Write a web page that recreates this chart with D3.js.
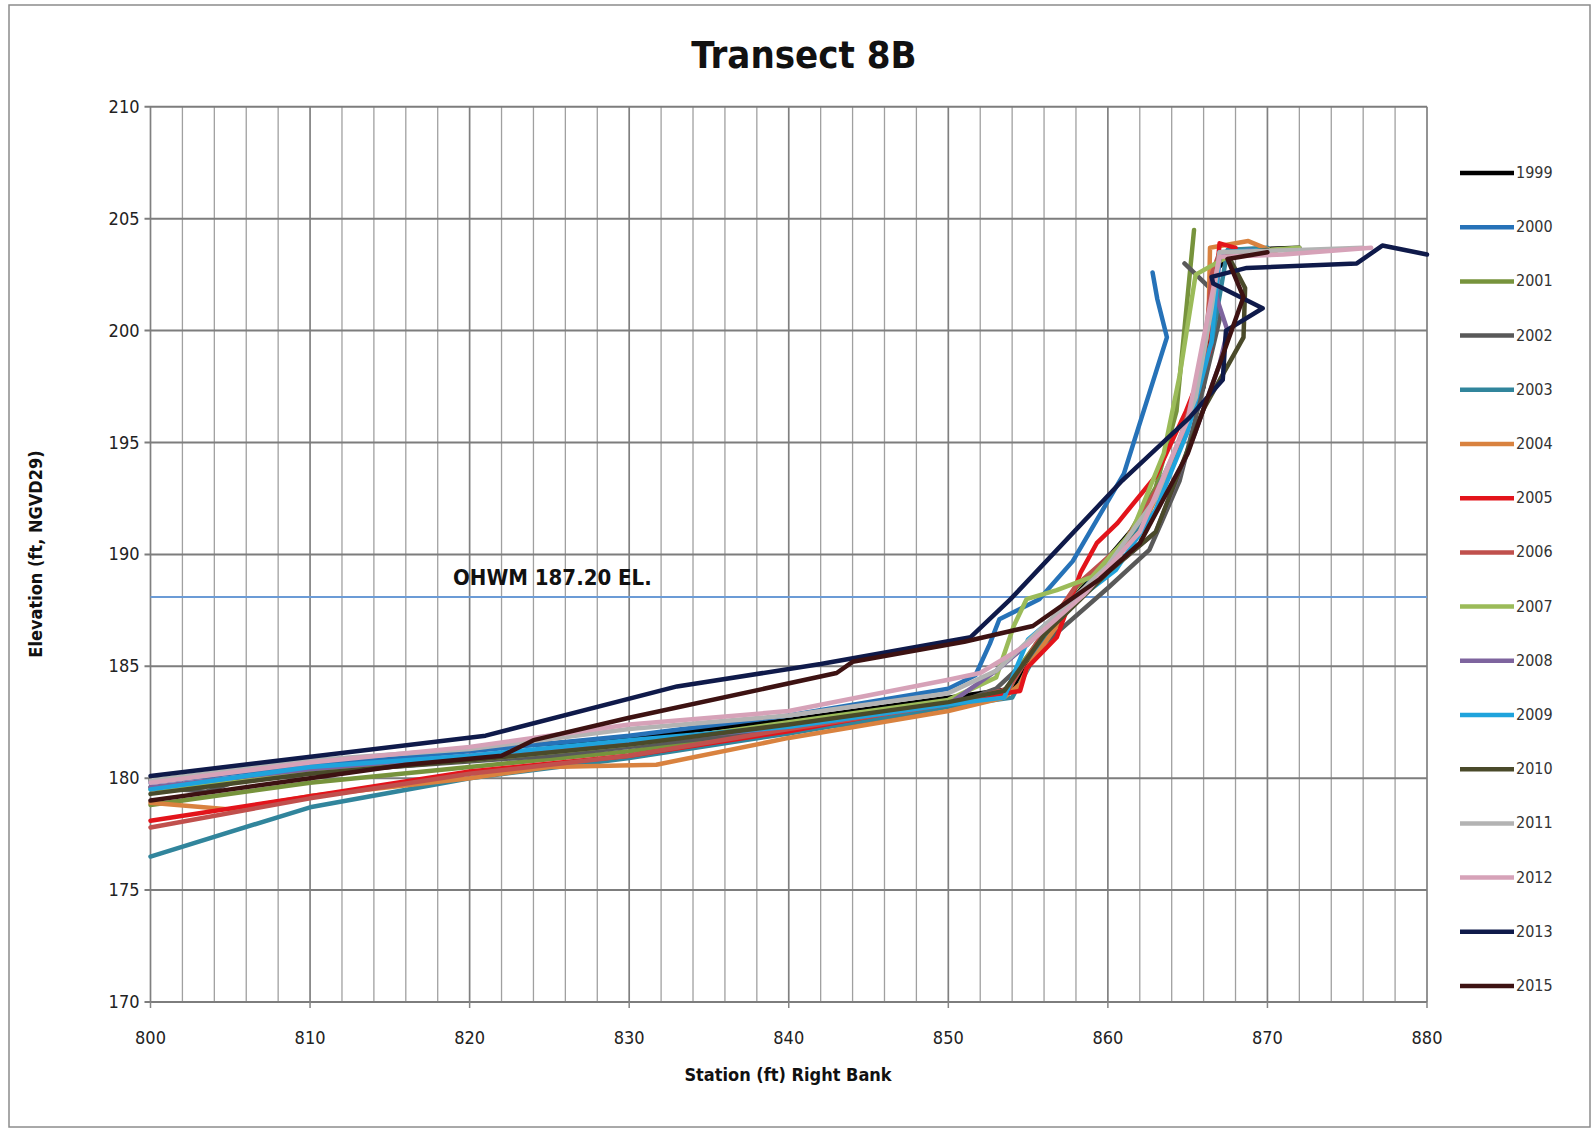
<!DOCTYPE html>
<html>
<head>
<meta charset="utf-8">
<script src="https://cdnjs.cloudflare.com/ajax/libs/d3/7.8.5/d3.min.js"></script>
<style>
  body { margin: 0; background: #fff; }
  text { font-family: "Liberation Sans Narrow", "DejaVu Sans Condensed", "Arial Narrow", sans-serif; }
</style>
</head>
<body>
<div id="chart"></div>
<script>
// station (ft) / elevation (ft) pairs
var years = ["1999","2000","2001","2002","2003","2004","2005","2006","2007","2008","2009","2010","2011","2012","2013","2015"]
var colors = ["#000000","#2672b8","#77933c","#595959","#31859c","#d9823f","#e3141b","#c0504d","#9bbb59","#7e649e","#1fa3dc","#4a4a2a","#b3b3b3","#d6a2b8","#0f1a4a","#3d1212"]

var s1999 = [[800,179.9],[810,180.6],[820,181.3],[830,181.8],[840,182.6],[850,183.6],[854,184.0],[856,186.5],[859,189.0],[862,191.5],[864,194.0],[866,197.5],[866.5,202.5],[868,203.6],[872,203.7]]
var s2000 = [[800,179.8],[810,180.6],[820,181.2],[830,181.9],[840,182.8],[850,184.0],[851.7,184.6],[852.6,186.0],[853.2,187.1],[855.7,188.0],[857.8,189.7],[861,193.6],[863.7,199.7],[863.1,201.4],[862.8,202.6]]
var s2001 = [[800,178.8],[810,179.8],[820,180.5],[830,181.2],[840,182.2],[850,183.3],[853.6,183.6],[854.5,185.0],[856,186.5],[858,188.5],[861,190.5],[863,193.0],[864.3,196.4],[865.4,204.5]]
var s2002 = [[800,179.6],[803.5,179.4],[806,180.0],[815,180.5],[825,181.0],[835,181.8],[845,182.5],[850,183.2],[853,184.0],[856,186.0],[860,188.5],[862.6,190.2],[863.4,191.5],[864.5,193.3],[866,197.5],[867,200.5],[866.4,201.9],[864.8,203.0]]
var s2003 = [[800,176.5],[810,178.7],[820,180.0],[830,180.9],[840,182.0],[850,183.2],[854,183.6],[856,186.2],[859,188.9],[862,191.3],[864.5,195.0],[866.5,199.5],[867.5,203.6],[870,203.7]]
var s2004 = [[800,178.9],[805,178.6],[810,179.2],[820,180.0],[825,180.5],[831.7,180.6],[840,181.8],[850,183.0],[853.5,183.6],[854.5,184.2],[855,185.0],[858,188.0],[862,191.0],[865,195.5],[866.3,200.0],[866.4,203.7],[868.8,204.0],[870.5,203.5]]
var s2005 = [[800,178.1],[810,179.2],[820,180.3],[830,181.0],[840,182.1],[850,183.4],[854.5,183.9],[854.9,184.9],[856.8,186.3],[858.3,189.2],[859.3,190.5],[860.6,191.4],[863,193.5],[864.9,196.4],[866.4,199.1],[867,203.9],[868,203.7]]
var s2006 = [[800,177.8],[810,179.1],[820,180.2],[830,181.0],[840,182.2],[850,183.3],[853.8,184.0],[855.5,186.0],[858,188.6],[861,190.5],[864,194.0],[866,198.5],[866.5,202.5],[867,203.5],[870.5,203.6]]
var s2007 = [[800,179.5],[805,179.8],[810,180.3],[820,180.8],[830,181.5],[840,182.5],[850,183.5],[853,184.5],[854.1,186.8],[854.9,188.0],[856.8,188.4],[859,189.0],[861.5,191.0],[863.5,194.5],[864.5,198.0],[865.5,202.5],[868,203.5],[872,203.7]]
var s2008 = [[800,179.6],[810,180.4],[820,181.0],[830,181.6],[840,182.3],[850,183.3],[853,184.8],[855,186.0],[860,189.2],[863,191.0],[865.5,195.5],[867,198.5],[867.5,200.0],[866.8,201.5],[867,203.4],[869,203.6]]
var s2009 = [[800,179.5],[805,180.0],[810,180.5],[820,181.0],[830,181.7],[840,182.3],[850,183.3],[853.5,183.6],[855,186.2],[857,187.4],[860.5,189.3],[863,192.0],[865,195.5],[866.5,199.5],[867,203.5],[870,203.6]]
var s2010 = [[800,179.3],[810,180.2],[820,180.8],[830,181.5],[840,182.4],[850,183.4],[853.5,183.9],[856,186.4],[860,189.2],[863,191.0],[866,196.5],[868.5,199.7],[868.6,201.9],[867.5,203.4],[870,203.6]]
var s2011 = [[800,179.9],[810,180.8],[820,181.3],[830,182.2],[840,182.8],[850,183.8],[853,184.8],[856,186.8],[860,189.5],[863,192.5],[865.5,197.0],[866.5,201.0],[867,203.5],[872,203.6],[876,203.7]]
var s2012 = [[800,179.8],[810,180.7],[820,181.4],[830,182.4],[840,183.0],[850,184.4],[852,184.7],[855,186.0],[858.5,188.2],[862,191.0],[865,196.0],[866.5,201.5],[867,203.3],[871,203.4],[876.5,203.7]]
var s2013 = [[800,180.1],[821,181.9],[833,184.1],[842,185.1],[851.4,186.3],[853.9,188.0],[860.9,193.3],[865.1,196.1],[867.2,197.8],[867.4,200.0],[868.1,200.3],[869.7,201.0],[866.6,202.1],[866.5,202.4],[868.7,202.8],[875.6,203.0],[877.2,203.8],[880,203.4]]
var s2015 = [[800,179.0],[804,179.4],[810,180.0],[816,180.6],[822,181.0],[824,181.7],[830,182.7],[843,184.7],[844,185.2],[851,186.1],[855.3,186.8],[859.5,188.9],[862,190.5],[865,194.5],[867,198.5],[868.5,201.5],[867.5,203.2],[870,203.5]]

var series = [s1999,s2000,s2001,s2002,s2003,s2004,s2005,s2006,s2007,s2008,s2009,s2010,s2011,s2012,s2013,s2015]

var xTicks = [800,810,820,830,840,850,860,870,880]
var yTicks = [170,175,180,185,190,195,200,205,210]
var ohwm = 188.1   // where the OHWM line sits on the plot
var ohwmLabel = "OHWM 187.20 EL."

var W = 1595, H = 1131
var svg = d3.select("#chart").append("svg").attr("width", W).attr("height", H)

svg.append("rect").attr("x", 9).attr("y", 5).attr("width", 1581).attr("height", 1122)
   .attr("fill", "#fff").attr("stroke", "#8c8c8c").attr("stroke-width", 1.5)

var x = d3.scaleLinear().domain([800, 880]).range([150.5, 1427])
var y = d3.scaleLinear().domain([170, 210]).range([1002, 106.8])

// minor vertical grid every 2 ft
var g = svg.append("g")
g.selectAll(".vminor").data(d3.range(800, 881, 2)).enter().append("line")
  .attr("x1", d => x(d)).attr("x2", d => x(d)).attr("y1", y(210)).attr("y2", y(170))
  .attr("stroke", d => d % 10 == 0 ? "#808080" : "#a0a0a0")
  .attr("stroke-width", d => d % 10 == 0 ? 1.7 : 1.3)

g.selectAll(".hmajor").data(yTicks).enter().append("line")
  .attr("x1", x(800) - 6).attr("x2", x(880)).attr("y1", d => y(d)).attr("y2", d => y(d))
  .attr("stroke", "#7d7d7d").attr("stroke-width", 2)

// tick marks under x axis
g.selectAll(".xt").data(xTicks).enter().append("line")
  .attr("x1", d => x(d)).attr("x2", d => x(d)).attr("y1", y(170)).attr("y2", y(170) + 6)
  .attr("stroke", "#858585").attr("stroke-width", 1.5)

svg.selectAll(".xl").data(xTicks).enter().append("text")
  .attr("x", d => x(d)).attr("y", y(170) + 42).attr("text-anchor", "middle")
  .attr("font-size", 18).attr("fill", "#222").text(d => d)

svg.selectAll(".yl").data(yTicks).enter().append("text")
  .attr("x", x(800) - 11).attr("y", d => y(d) + 6).attr("text-anchor", "end")
  .attr("font-size", 18).attr("fill", "#222").text(d => d)

// OHWM reference line
svg.append("line").attr("x1", x(800)).attr("x2", x(880)).attr("y1", y(ohwm)).attr("y2", y(ohwm))
  .attr("stroke", "#6b9bd6").attr("stroke-width", 2)
svg.append("text").attr("x", 453).attr("y", 585).attr("font-size", 22).attr("font-weight", "bold")
  .attr("fill", "#111").text(ohwmLabel)

var line = d3.line().x(d => x(d[0])).y(d => y(d[1]))

svg.append("g").selectAll("path").data(series).enter().append("path")
  .attr("d", line).attr("fill", "none")
  .attr("stroke", (d, i) => colors[i])
  .attr("stroke-width", 4.5).attr("stroke-linejoin", "round").attr("stroke-linecap", "round")

// legend
var leg = svg.append("g").selectAll("g").data(years).enter().append("g")
  .attr("transform", (d, i) => "translate(1460," + (173 + i * 54.2) + ")")
leg.append("line").attr("x1", 0).attr("x2", 54).attr("stroke", (d, i) => colors[i]).attr("stroke-width", 4.5)
leg.append("text").attr("x", 56).attr("y", 5).attr("font-size", 16).attr("fill", "#333").text(d => d)

svg.append("text").attr("x", 804).attr("y", 68).attr("text-anchor", "middle")
  .attr("font-size", 38).attr("font-weight", "bold").attr("fill", "#111").text("Transect 8B")

svg.append("text").attr("x", 788).attr("y", 1081).attr("text-anchor", "middle")
  .attr("font-size", 18).attr("font-weight", "bold").attr("fill", "#111").text("Station (ft) Right Bank")

svg.append("text").attr("transform", "translate(42,554) rotate(-90)").attr("text-anchor", "middle")
  .attr("font-size", 18).attr("font-weight", "bold").attr("fill", "#111").text("Elevation (ft, NGVD29)")
</script>
</body>
</html>
